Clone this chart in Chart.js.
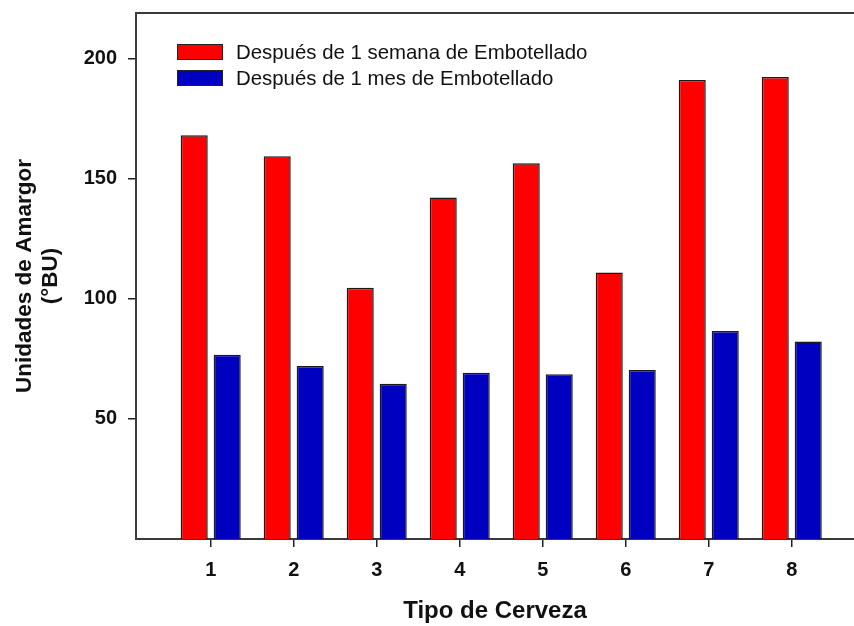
<!DOCTYPE html>
<html>
<head>
<meta charset="utf-8">
<title>Unidades de Amargor por Tipo de Cerveza</title>
<script src="https://cdn.jsdelivr.net/npm/chart.js@4.4.1/dist/chart.umd.min.js"></script>
<style>
  html, body { margin: 0; padding: 0; background: #ffffff; }
  #chartWrap { width: 854px; height: 626px; }
</style>
</head>
<body>
<div id="chartWrap"><canvas id="bitternessChart" width="854" height="626"></canvas></div>
<script>
// ===========================================
// DATA
// ===========================================
const beerTypes = ['1', '2', '3', '4', '5', '6', '7', '8'];
const weekValues = [168.1, 159.4, 104.6, 142.2, 156.4, 111.0, 191.1, 192.4];
const monthValues = [76.7, 72.0, 64.6, 69.2, 68.6, 70.4, 86.6, 82.2];
const yTickValues = [50, 100, 150, 200];

const weekLabel = 'Después de 1 semana de Embotellado';
const monthLabel = 'Después de 1 mes de Embotellado';

const FONT = 'Arial, "Liberation Sans", sans-serif';

// beer type n sits at x = n on a linear axis
function toPoints(values) {
  return values.map((v, i) => ({ x: i + 1, y: v }));
}

// legend drawn inside the plot, top-left, like the original figure
const insideLegend = {
  id: 'insideLegend',
  afterDatasetsDraw(chart) {
    const ctx = chart.ctx;
    const left = chart.chartArea.left + 41;
    const top = chart.chartArea.top + 31;
    const boxW = 46;
    const boxH = 16;
    const rowGap = 26;

    ctx.save();
    chart.data.datasets.forEach((ds, i) => {
      const y = top + i * rowGap;
      ctx.fillStyle = ds.backgroundColor;
      ctx.fillRect(left, y, boxW, boxH);
      ctx.lineWidth = 1;
      ctx.strokeStyle = '#222';
      ctx.strokeRect(left + 0.5, y + 0.5, boxW - 1, boxH - 1);

      ctx.fillStyle = '#111';
      ctx.font = '20.4px ' + FONT;
      ctx.textAlign = 'left';
      ctx.textBaseline = 'middle';
      ctx.fillText(ds.label, left + boxW + 13, y + boxH / 2 + 1);
    });
    ctx.restore();
  }
};

function renderBitternessChart() {
  const ctx = document.getElementById('bitternessChart');

  new Chart(ctx, {
    type: 'bar',
    data: {
      datasets: [
        {
          label: weekLabel,
          data: toPoints(weekValues),
          backgroundColor: '#ff0000',
          borderColor: '#1a1a1a',
          borderWidth: 1.5,
          borderSkipped: 'bottom'
        },
        {
          label: monthLabel,
          data: toPoints(monthValues),
          backgroundColor: '#0000c0',
          borderColor: '#1a1a1a',
          borderWidth: 1.5,
          borderSkipped: 'bottom'
        }
      ]
    },
    options: {
      responsive: false,
      animation: false,
      categoryPercentage: 0.795,
      barPercentage: 0.82,
      layout: { padding: 0 },
      plugins: {
        legend: { display: false },
        tooltip: { enabled: false }
      },
      scales: {
        x: {
          type: 'linear',
          position: 'bottom',
          min: 0.1,
          max: 8.75,
          offset: false,
          afterBuildTicks: (scale) => {
            scale.ticks = beerTypes.map((t, i) => ({ value: i + 1 }));
          },
          afterFit: (scale) => {
            scale.height = 87;
            scale.paddingLeft = 0;
            scale.paddingRight = 0;
          },
          grid: {
            offset: false,
            drawOnChartArea: false,
            drawTicks: true,
            tickLength: 8,
            tickColor: '#222',
            lineWidth: 1.5
          },
          border: { display: true, color: '#3a3a3a', width: 2 },
          ticks: {
            padding: 11,
            color: '#111',
            font: { family: FONT, size: 20, weight: 'bold' },
            callback: (value) => beerTypes[value - 1]
          },
          title: {
            display: true,
            text: 'Tipo de Cerveza',
            color: '#111',
            font: { family: FONT, size: 24, weight: 'bold' },
            padding: { top: 0, bottom: 0 }
          }
        },
        xTop: {
          type: 'linear',
          position: 'top',
          min: 0.1,
          max: 8.75,
          afterFit: (scale) => {
            scale.height = 13;
            scale.paddingLeft = 0;
            scale.paddingRight = 0;
          },
          grid: { display: false },
          ticks: { display: false },
          border: { display: true, color: '#3a3a3a', width: 2 }
        },
        y: {
          type: 'linear',
          min: 0,
          max: 219,
          afterBuildTicks: (scale) => {
            scale.ticks = yTickValues.map(v => ({ value: v }));
          },
          afterFit: (scale) => {
            scale.width = 136;
            scale.paddingTop = 0;
            scale.paddingBottom = 0;
          },
          grid: {
            drawOnChartArea: false,
            drawTicks: true,
            tickLength: 8,
            tickColor: '#222',
            lineWidth: 1.5
          },
          border: { display: true, color: '#3a3a3a', width: 2 },
          ticks: {
            padding: 11,
            color: '#111',
            font: { family: FONT, size: 20, weight: 'bold' }
          },
          title: {
            display: true,
            text: ['Unidades de Amargor', '(°BU)'],
            color: '#111',
            font: { family: FONT, size: 22.5, weight: 'bold', lineHeight: 1.15 },
            padding: { top: 12, bottom: 0 }
          }
        }
      }
    },
    plugins: [insideLegend]
  });
}

renderBitternessChart();
</script>
</body>
</html>
